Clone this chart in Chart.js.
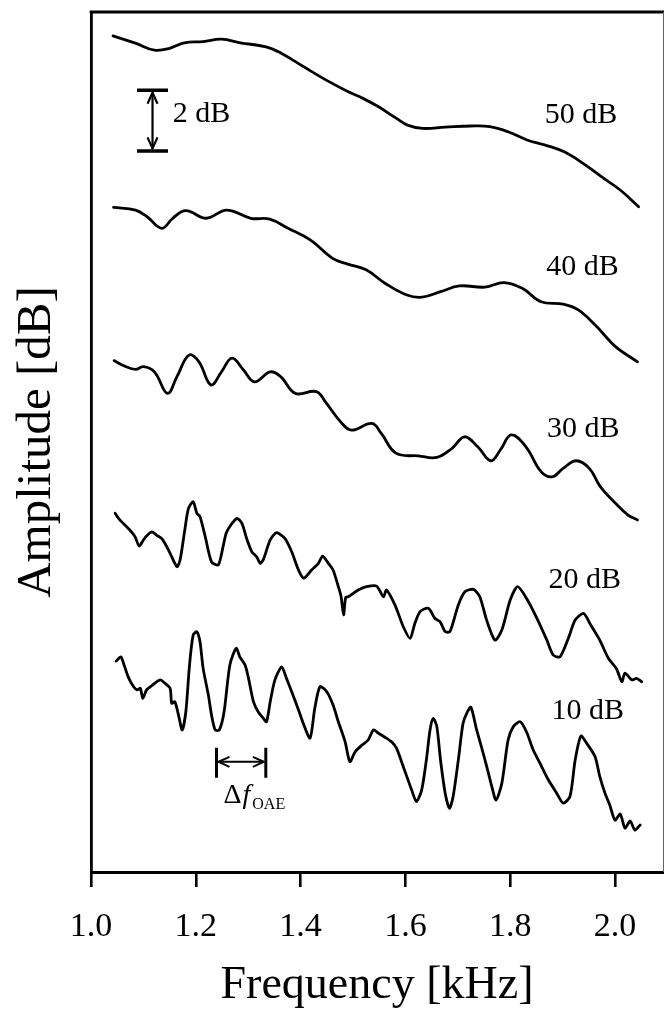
<!DOCTYPE html>
<html>
<head>
<meta charset="utf-8">
<title>OAE amplitude spectra</title>
<script src="https://cdn.jsdelivr.net/npm/chart.js@4/dist/chart.umd.min.js"></script>
<style>
  html, body { margin: 0; padding: 0; background: #fff; }
  #wrap { width: 664px; height: 1017px; }
</style>
</head>
<body>
<div id="wrap"><canvas id="chart" width="664" height="1017"></canvas></div>
<script>
// Stimulus levels shown as separate traces
const levelLabels = ['50 dB', '40 dB', '30 dB', '20 dB', '10 dB'];

// Frequency axis tick values [kHz]
const freqTicks = [1.0, 1.2, 1.4, 1.6, 1.8, 2.0];

// 50 dB trace: frequency [kHz] and amplitude [dB, stacked display]
const freq50 = [1.042,1.086,1.121,1.150,1.178,1.214,1.249,1.285,1.334,1.363,1.406,1.448,1.491,1.519,1.548,1.583,1.604,1.633,1.676,1.725,1.761,1.796,1.832,1.867,1.903,1.939,1.974,2.010,2.045];
const amp50  = [27.55,27.30,27.08,27.14,27.32,27.36,27.44,27.32,27.19,26.98,26.53,26.10,25.71,25.49,25.22,24.83,24.61,24.50,24.54,24.58,24.56,24.39,24.12,23.95,23.73,23.35,22.91,22.47,21.92];

// 40 dB trace
const freq40 = [1.043,1.085,1.107,1.135,1.156,1.181,1.220,1.259,1.305,1.341,1.376,1.419,1.461,1.490,1.525,1.561,1.603,1.632,1.667,1.703,1.752,1.788,1.823,1.859,1.901,1.930,1.965,2.001,2.043];
const amp40  = [21.90,21.81,21.59,21.21,21.54,21.79,21.54,21.81,21.54,21.51,21.21,20.82,20.22,20.03,19.84,19.40,19.01,18.94,19.12,19.31,19.27,19.42,19.23,18.79,18.71,18.52,17.97,17.31,16.81];

// 30 dB trace
const freq30 = [1.044,1.064,1.085,1.100,1.121,1.146,1.164,1.187,1.206,1.229,1.249,1.269,1.291,1.312,1.342,1.362,1.390,1.430,1.447,1.476,1.497,1.536,1.554,1.582,1.625,1.660,1.689,1.713,1.738,1.763,1.781,1.802,1.830,1.859,1.880,1.901,1.926,1.951,1.972,2.001,2.025,2.043];
const amp30  = [16.85,16.67,16.56,16.65,16.48,15.77,16.32,17.03,16.81,16.05,16.48,16.93,16.54,16.15,16.48,16.32,15.77,15.83,15.50,14.84,14.56,14.78,14.45,13.80,13.71,13.66,13.96,14.34,14.01,13.55,13.90,14.40,14.01,13.19,13.02,13.30,13.55,13.30,12.70,12.15,11.76,11.60];

// 20 dB trace
const freq20 = [1.046,1.055,1.074,1.084,1.092,1.100,1.106,1.116,1.125,1.135,
                1.141,1.151,1.164,1.170,1.179,1.186,1.195,1.202,1.208,1.218,
                1.230,1.243,1.252,1.259,1.278,1.288,1.297,1.307,1.316,1.323,
                1.329,1.342,1.354,1.370,1.383,1.396,1.406,1.421,1.434,1.442,
                1.453,1.462,1.472,1.477,1.482,1.486,1.491,1.510,1.526,1.545,1.558,1.564,
                1.580,1.596,1.609,1.618,1.628,1.644,1.656,1.666,1.676,1.685,
                1.701,1.714,1.730,1.742,1.755,1.771,1.784,1.800,1.814,1.831,
                1.851,1.870,1.882,1.895,1.911,1.924,1.940,1.952,1.971,1.987,
                2.003,2.013,2.019,2.032,2.041,2.051];
const amp20  = [11.82,11.60,11.27,11.05,10.74,10.94,11.07,11.21,11.10,10.99,
                10.83,10.50,10.06,10.28,11.27,11.98,12.20,11.82,11.71,11.05,
                10.22,10.12,10.72,11.21,11.65,11.49,10.99,10.55,10.39,10.17,
                10.30,10.94,11.18,10.99,10.55,9.95,9.68,9.95,10.17,10.41,
                10.17,9.95,9.40,9.10,8.47,9.05,9.07,9.29,9.40,9.42,9.07,9.29,
                8.80,8.08,7.70,8.19,8.58,8.69,8.36,8.25,7.92,7.92,
                8.80,9.24,9.31,9.07,8.30,7.64,7.97,8.96,9.40,9.02,
                8.36,7.64,7.15,7.09,7.70,8.30,8.52,8.19,7.64,7.05,
                6.69,6.27,6.55,6.33,6.38,6.27];

// 10 dB trace
const freq10 = [1.048,1.057,1.062,1.071,1.081,1.088,1.094,1.099,1.106,1.116,
                1.132,1.141,1.151,1.154,1.160,1.167,1.174,1.181,1.188,1.195,
                1.202,1.208,1.214,1.224,1.230,1.237,1.245,1.254,1.265,1.277,
                1.284,1.294,1.300,1.310,1.319,1.329,1.335,1.342,1.351,1.364,
                1.373,1.383,1.396,1.405,1.418,1.427,1.437,1.450,1.462,1.472,
                1.485,1.494,1.504,1.517,1.529,1.539,1.548,1.563,1.574,1.583,
                1.596,1.612,1.621,1.631,1.640,1.647,1.653,1.660,1.667,1.676,
                1.684,1.691,1.701,1.710,1.717,1.725,1.736,1.752,1.765,1.773,
                1.784,1.796,1.806,1.819,1.831,1.844,1.857,1.873,1.889,1.901,
                1.914,1.924,1.935,1.946,1.962,1.971,1.981,1.990,2.000,2.010,
                2.019,2.029,2.038,2.048];
const amp10  = [6.95,7.09,6.88,6.43,6.11,6.00,6.05,5.72,6.00,6.14,
                6.33,6.22,6.05,5.56,5.61,5.17,4.68,5.28,6.82,7.81,
                7.92,7.59,6.71,5.83,5.17,4.68,4.68,5.28,6.82,7.37,
                7.09,6.82,6.43,5.61,5.28,5.06,4.95,5.61,6.33,6.76,
                6.38,5.94,5.34,4.90,4.41,5.39,6.11,5.94,5.50,4.95,
                4.29,3.63,3.96,4.18,4.35,4.68,4.58,4.42,4.28,4.08,
                3.47,2.70,2.32,2.70,3.69,4.68,5.06,4.79,3.69,2.59,
                2.10,2.48,3.69,4.90,5.23,5.43,4.68,3.69,2.81,2.37,
                2.92,4.35,4.79,4.95,4.62,4.02,3.58,3.03,2.59,2.27,
                2.48,3.69,4.48,4.24,3.80,3.14,2.59,2.21,1.71,1.91,
                1.45,1.68,1.38,1.55];

const SERIF = '"Liberation Serif", "Times New Roman", serif';

// Where the annotations sit, in data units (kHz, dB)
const notes = {
  labelFreq: [1.866, 1.869, 1.870, 1.873, 1.879],
  labelAmp:  [24.69, 19.67, 14.34, 9.35, 5.03],
  barFreq: 1.1174, barBase: 23.76, barSpan: 2,     // 2 dB scale bar
  barTextFreq: 1.156,
  deltaFrom: 1.2395, deltaTo: 1.3336, deltaAmp: 3.63 // spacing of OAE fine structure
};

const pairs = (fs, as) => fs.map((f, i) => ({ x: f, y: as[i] }));
const series = [[freq50, amp50], [freq40, amp40], [freq30, amp30], [freq20, amp20], [freq10, amp10]];

const datasets = series.map(([f, a], i) => ({
  label: levelLabels[i],
  data: pairs(f, a),
  borderColor: '#000',
  borderWidth: 2.8,
  pointRadius: 0,
  tension: i < 3 ? 0.4 : 0.25,
  borderJoinStyle: 'round',
  borderCapStyle: 'round',
  fill: false
}));

function chevron(ctx, tipX, tipY, dx, dy, w) {
  // open arrowhead pointing toward (tipX, tipY); (dx, dy) is the back direction
  const len = Math.hypot(dx, dy);
  const ux = dx / len, uy = dy / len;
  const px = -uy, py = ux;
  ctx.beginPath();
  ctx.moveTo(tipX + ux * 11 + px * w, tipY + uy * 11 + py * w);
  ctx.lineTo(tipX, tipY);
  ctx.lineTo(tipX + ux * 11 - px * w, tipY + uy * 11 - py * w);
  ctx.stroke();
}

const frameAndNotes = {
  id: 'frameAndNotes',
  afterDraw(chart) {
    const { ctx, chartArea: a, scales: { x, y } } = chart;
    ctx.save();
    ctx.strokeStyle = '#000';
    ctx.fillStyle = '#000';
    ctx.lineCap = 'butt';

    // top and right edges of the frame
    ctx.lineWidth = 3;
    ctx.beginPath();
    ctx.moveTo(a.left - 1.35, a.top);
    ctx.lineTo(a.right + 1, a.top);
    ctx.stroke();
    ctx.strokeStyle = '#666';
    ctx.lineWidth = 1;
    ctx.beginPath();
    ctx.moveTo(a.right + 0.5, a.top);
    ctx.lineTo(a.right + 0.5, a.bottom);
    ctx.stroke();
    ctx.strokeStyle = '#000';

    // level labels
    ctx.font = '30px ' + SERIF;
    ctx.textAlign = 'left';
    ctx.textBaseline = 'alphabetic';
    levelLabels.forEach((t, i) => {
      ctx.fillText(t, x.getPixelForValue(notes.labelFreq[i]), y.getPixelForValue(notes.labelAmp[i]));
    });

    // 2 dB scale bar
    const bx = x.getPixelForValue(notes.barFreq);
    const yb = y.getPixelForValue(notes.barBase);
    const yt = y.getPixelForValue(notes.barBase + notes.barSpan);
    ctx.lineWidth = 3.5;
    ctx.beginPath();
    ctx.moveTo(bx - 15.5, yt); ctx.lineTo(bx + 15.5, yt);
    ctx.moveTo(bx - 15.5, yb); ctx.lineTo(bx + 15.5, yb);
    ctx.stroke();
    ctx.lineWidth = 2.2;
    ctx.beginPath();
    ctx.moveTo(bx, yt + 2); ctx.lineTo(bx, yb - 2);
    ctx.stroke();
    chevron(ctx, bx, yt + 2.5, 0, 1, 5);
    chevron(ctx, bx, yb - 2.5, 0, -1, 5);
    ctx.fillText('2 dB', x.getPixelForValue(notes.barTextFreq), y.getPixelForValue(notes.barBase + 0.95));

    // Δf_OAE marker
    const xl = x.getPixelForValue(notes.deltaFrom);
    const xr = x.getPixelForValue(notes.deltaTo);
    const yc = y.getPixelForValue(notes.deltaAmp);
    ctx.lineWidth = 3;
    ctx.beginPath();
    ctx.moveTo(xl, yc - 14); ctx.lineTo(xl, yc + 16);
    ctx.moveTo(xr, yc - 14); ctx.lineTo(xr, yc + 16);
    ctx.stroke();
    ctx.lineWidth = 2;
    ctx.beginPath();
    ctx.moveTo(xl + 2, yc); ctx.lineTo(xr - 2, yc);
    ctx.stroke();
    chevron(ctx, xl + 2, yc, 1, 0, 5);
    chevron(ctx, xr - 2, yc, -1, 0, 5);

    let tx = xl + 7;
    const base = yc + 41;
    ctx.font = '28px ' + SERIF;
    ctx.fillText('Δ', tx, base);
    tx += ctx.measureText('Δ').width + 1;
    ctx.font = 'italic 28px ' + SERIF;
    ctx.fillText('f', tx, base);
    tx += ctx.measureText('f').width + 2;
    ctx.font = '16px ' + SERIF;
    ctx.fillText('OAE', tx, base + 6);

    ctx.restore();
  }
};

Chart.defaults.color = '#000';
Chart.defaults.font.family = SERIF;

new Chart(document.getElementById('chart'), {
  type: 'line',
  data: { datasets },
  plugins: [frameAndNotes],
  options: {
    responsive: false,
    animation: false,
    events: [],
    layout: { padding: { top: 12, right: 1, bottom: 0, left: 0 } },
    plugins: { legend: { display: false }, tooltip: { enabled: false } },
    scales: {
      x: {
        type: 'linear',
        position: 'bottom',
        min: 1.0,
        max: 2.0916,
        afterBuildTicks: (s) => { s.ticks = freqTicks.map(v => ({ value: v })); },
        afterFit: (s) => { s.height = 145; },
        ticks: {
          autoSkip: false,
          maxRotation: 0,
          minRotation: 0,
          padding: 20,
          color: '#000',
          font: { family: SERIF, size: 34 },
          callback: (v) => Number(v).toFixed(1)
        },
        grid: {
          display: true,
          drawOnChartArea: false,
          drawTicks: true,
          tickLength: 15,
          tickWidth: 2.6,
          tickColor: '#000',
          color: '#000',
          lineWidth: 2.6
        },
        border: { display: true, color: '#000', width: 3 },
        title: {
          display: true,
          text: 'Frequency [kHz]',
          color: '#000',
          font: { family: SERIF, size: 46 },
          padding: { top: 0, bottom: 3 }
        }
      },
      y: {
        type: 'linear',
        position: 'left',
        min: 0,
        max: 28.336,
        afterFit: (s) => { s.width = 91; },
        ticks: { display: false },
        grid: { display: false },
        border: { display: true, color: '#000', width: 2.8 },
        title: {
          display: true,
          text: 'Amplitude [dB]',
          color: '#000',
          font: { family: SERIF, size: 49 },
          padding: { top: 8, bottom: 0 }
        }
      }
    }
  }
});
</script>
</body>
</html>
